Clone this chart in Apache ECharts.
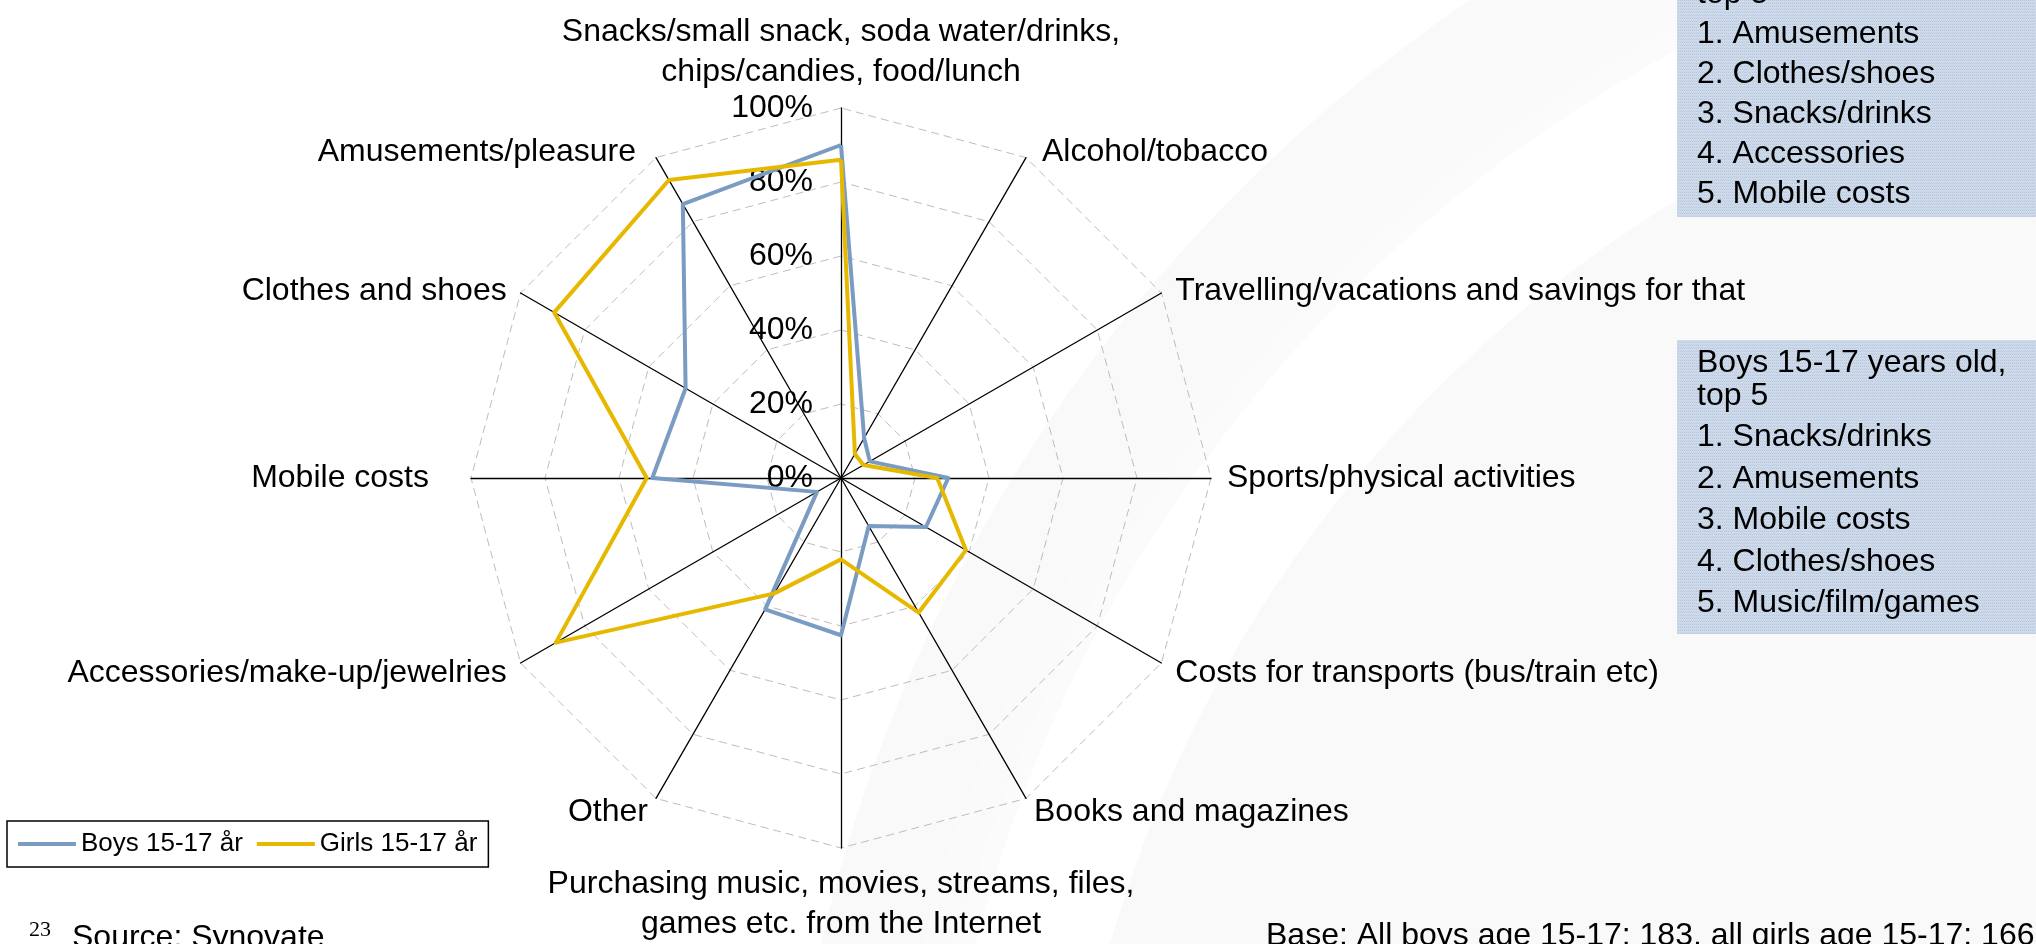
<!DOCTYPE html>
<html>
<head>
<meta charset="utf-8">
<script src="https://cdn.jsdelivr.net/npm/echarts@6/dist/echarts.min.js"></script>
<style>
html,body{margin:0;padding:0;background:#fff;overflow:hidden}
#c{width:2036px;height:944px}
</style>
</head>
<body>
<div id="c"></div>
<script>
// ---- data (clockwise from the top, as read on the chart) ----
const categories = [
  'Snacks/small snack, soda water/drinks,\nchips/candies, food/lunch',
  'Alcohol/tobacco',
  'Travelling/vacations and savings for that',
  'Sports/physical activities',
  'Costs for transports (bus/train etc)',
  'Books and magazines',
  'Purchasing music, movies, streams, files,\ngames etc. from the Internet',
  'Other',
  'Accessories/make-up/jewelries',
  'Mobile costs',
  'Clothes and shoes',
  'Amusements/pleasure'
];
const boys  = [90, 12.5, 9, 29, 26.5, 15, 42.5, 41, 7.5, 51, 48.5, 85.5];
const girls = [86, 7.5, 7, 26, 39, 42, 22, 36, 89, 52.5, 89.5, 93];
const seriesNames = ['Boys 15-17 år', 'Girls 15-17 år'];
const axisMin = 0;
const axisMax = 100;
const axisSplits = 5;
const girlsTop = ['Girls 15-17 years old,', 'top 5', '1. Amusements', '2. Clothes/shoes', '3. Snacks/drinks', '4. Accessories', '5. Mobile costs'];
const boysTop  = ['Boys 15-17 years old,', 'top 5', '1. Snacks/drinks', '2. Amusements', '3. Mobile costs', '4. Clothes/shoes', '5. Music/film/games'];
const baseNote = 'Base: All boys age 15-17: 183, all girls age 15-17: 166';
const sourceNote = 'Source: Synovate';
const pageNo = '23';

// ---- styling ----
const FONT = '"Liberation Sans", Arial, sans-serif';
const BLUE = '#7a9cc2';
const GOLD = '#e6b800';

// label nudges for a few axis names, by category index
const nameNudge = {
  1:  { padding: [0, 0, 0, 8],  verticalAlign: 'top', lineHeight: 16 },
  2:  { verticalAlign: 'top', lineHeight: 13 },
  4:  { verticalAlign: 'top', lineHeight: 5 },
  8:  { verticalAlign: 'top', lineHeight: 5 },
  10: { verticalAlign: 'top', lineHeight: 13 },
  11: { padding: [0, 12, 0, 0], verticalAlign: 'top', lineHeight: 16 }
};

// ECharts lays radar indicators out counter-clockwise; reorder so they read clockwise
const n = categories.length;
const order = categories.map((_, i) => (n - i) % n);
const indicators = order.map(k => {
  const ind = { name: categories[k], min: axisMin, max: axisMax };
  if (k === 0) ind.axisLabel = { show: true };
  if (categories[k] === 'Mobile costs') ind.nameGap = 42;
  if (nameNudge[k]) ind.nameTextStyle = Object.assign({}, nameNudge[k]);
  return ind;
});

function makePattern() {
  const c = document.createElement('canvas');
  c.width = 4; c.height = 3;
  const g = c.getContext('2d');
  g.fillStyle = '#cfdbea';
  g.fillRect(0, 0, 4, 3);
  g.fillStyle = '#b4c6db';
  g.fillRect(0, 0, 1, 1); g.fillRect(2, 0, 1, 1);
  g.fillStyle = '#c2d1e3';
  g.fillRect(1, 2, 1, 1); g.fillRect(3, 2, 1, 1);
  return c;
}
const pattern = { image: makePattern(), repeat: 'repeat' };

function boxTexts(lines, x, y0, wrapGap, itemGap) {
  const out = [];
  let y = y0;
  lines.forEach((t, i) => {
    if (i === 1) y += wrapGap; else if (i > 1) y += itemGap;
    out.push({
      type: 'text', z: 10,
      style: { x: x, y: y, text: t, font: '32px ' + FONT, fill: '#000', verticalAlign: 'middle' }
    });
  });
  return out;
}

const bg = [
  { type: 'circle', z: -10, silent: true, shape: { cx: 2350, cy: 1300, r: 1570 },
    style: { fill: 'rgba(0,0,0,0.025)', shadowBlur: 140, shadowColor: 'rgba(0,0,0,0.03)' } },
  { type: 'circle', z: -9, silent: true, shape: { cx: 2350, cy: 1300, r: 1420 },
    style: { fill: 'rgba(255,255,255,0.85)', shadowBlur: 120, shadowColor: 'rgba(255,255,255,0.9)' } },
  { type: 'circle', z: -8, silent: true, shape: { cx: 2350, cy: 1300, r: 1290 },
    style: { fill: 'rgba(0,0,0,0.022)', shadowBlur: 140, shadowColor: 'rgba(0,0,0,0.02)' } }
];

const graphics = bg.concat([
  { type: 'rect', z: 5, shape: { x: 1677, y: -60, width: 359, height: 277 }, style: { fill: pattern } },
  { type: 'rect', z: 5, shape: { x: 1677, y: 340, width: 359, height: 294 }, style: { fill: pattern } }
]).concat(boxTexts(girlsTop, 1697, -39, 33, 40))
  .concat(boxTexts(boysTop, 1697, 363, 33, 41.5))
  .concat([
    { type: 'text', z: 10, style: { x: 1266, y: 936, text: baseNote, font: '32px ' + FONT, fill: '#000', verticalAlign: 'middle' } },
    { type: 'text', z: 10, style: { x: 72, y: 938, text: sourceNote, font: '32px ' + FONT, fill: '#000', verticalAlign: 'middle' } },
    { type: 'text', z: 10, style: { x: 29, y: 930, text: pageNo, font: '22px "Liberation Serif", "Times New Roman", serif', fill: '#000', verticalAlign: 'middle' } }
  ]);

const chart = echarts.init(document.getElementById('c'), null, { renderer: 'canvas' });
chart.setOption({
  animation: false,
  backgroundColor: '#ffffff',
  textStyle: { fontFamily: FONT },
  graphic: graphics,
  legend: {
    left: 7, top: 821,
    data: seriesNames,
    icon: 'rect', itemWidth: 58, itemHeight: 4, itemGap: 14,
    padding: [10, 11, 10, 11],
    borderColor: '#000', borderWidth: 1.5,
    textStyle: { fontSize: 26, color: '#000', fontFamily: FONT },
    selectedMode: false
  },
  radar: {
    center: [841, 478],
    radius: 370,
    startAngle: 90,
    splitNumber: axisSplits,
    shape: 'polygon',
    indicator: indicators,
    nameGap: 16,
    axisName: { color: '#000', fontSize: 32, fontFamily: FONT, lineHeight: 40 },
    axisLine: { lineStyle: { color: '#000', width: 1.3 } },
    splitLine: { lineStyle: { color: '#bdbdbd', width: 1, type: [8, 5] } },
    splitArea: { show: false },
    axisTick: { show: false },
    axisLabel: { show: false, fontSize: 32, color: '#000', fontFamily: FONT, margin: 28, formatter: '{value}%' }
  },
  series: [{
    type: 'radar',
    symbol: 'none',
    data: [
      { name: seriesNames[0], value: order.map(k => boys[k]),
        lineStyle: { color: BLUE, width: 4 }, itemStyle: { color: BLUE } },
      { name: seriesNames[1], value: order.map(k => girls[k]),
        lineStyle: { color: GOLD, width: 4 }, itemStyle: { color: GOLD } }
    ]
  }]
});
</script>
</body>
</html>
